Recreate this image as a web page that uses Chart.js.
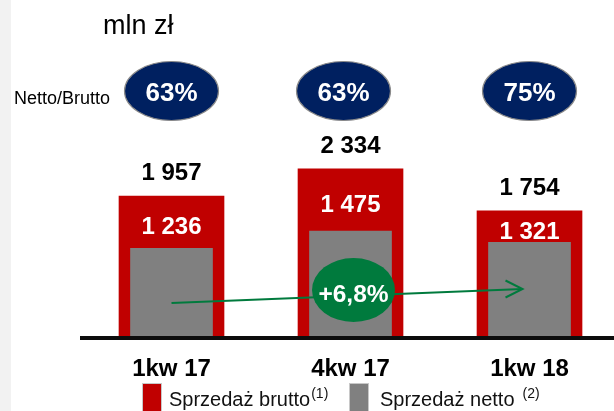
<!DOCTYPE html>
<html><head><meta charset="utf-8">
<script src="https://cdn.jsdelivr.net/npm/chart.js@4/dist/chart.umd.min.js"></script>
<style>html,body{margin:0;padding:0;background:#fff;overflow:hidden}#wrap{width:614px;height:411px;position:relative}</style>
</head><body><div id="wrap"><canvas id="c" width="614" height="411"></canvas></div>
<script>
const categories = ['1kw 17', '4kw 17', '1kw 18'];
const bruttoValues = [1957, 2334, 1754];
const nettoValues = [1236, 1475, 1321];
const ratioLabels = ['63%', '63%', '75%'];
const growthLabel = '+6,8%';
const seriesNames = ['Sprzedaż brutto', 'Sprzedaż netto'];
const footnotes = ['(1)', '(2)'];
const unitLabel = 'mln zł';
const ratioTitle = 'Netto/Brutto';

const RED = '#c00000', GREY = '#808080', NAVY = '#002060', GREEN = '#007a3d';
const F = '"Liberation Sans", Arial, Helvetica, sans-serif';
function fmt(v) { return String(v).replace(/\B(?=(\d{3})+(?!\d))/g, ' '); }

const overlay = {
  id: 'overlay',
  beforeDraw(chart) {
    const ctx = chart.ctx;
    ctx.save();
    ctx.fillStyle = '#f2f2f2';
    ctx.fillRect(0, 0, 11, chart.height);
    ctx.restore();
  },
  afterDraw(chart) {
    const xs = chart.scales.x, ys = chart.scales.y, ctx = chart.ctx;
    ctx.save();
    ctx.textAlign = 'center';
    ctx.textBaseline = 'alphabetic';
    // value labels
    categories.forEach((c, i) => {
      const cx = xs.getPixelForValue(i);
      const rt = ys.getPixelForValue(bruttoValues[i]);
      const gt = ys.getPixelForValue(nettoValues[i]);
      ctx.font = 'bold 24px ' + F;
      ctx.fillStyle = '#000';
      ctx.fillText(fmt(bruttoValues[i]), cx, rt - 16);
      ctx.fillStyle = '#fff';
      ctx.fillText(fmt(nettoValues[i]), cx, (rt + gt) / 2 + 12);
    });
    // ratio ellipses
    const ellOff = [0, -7, 0];
    categories.forEach((c, i) => {
      const cx = xs.getPixelForValue(i) + ellOff[i];
      ctx.beginPath();
      ctx.ellipse(cx, 91, 47, 29.5, 0, 0, Math.PI * 2);
      ctx.fillStyle = NAVY; ctx.fill();
      ctx.lineWidth = 1.2; ctx.strokeStyle = '#8a8a8a'; ctx.stroke();
      ctx.fillStyle = '#fff';
      ctx.font = 'bold 26px ' + F;
      ctx.fillText(ratioLabels[i], cx, 101);
    });
    // growth arrow
    const x0 = xs.getPixelForValue(0), x2 = xs.getPixelForValue(2) - 7;
    ctx.strokeStyle = GREEN; ctx.lineWidth = 2;
    ctx.beginPath(); ctx.moveTo(x0, 303); ctx.lineTo(x2, 289); ctx.stroke();
    ctx.beginPath(); ctx.moveTo(x2 - 17, 280.5); ctx.lineTo(x2, 289); ctx.lineTo(x2 - 17, 297.5); ctx.stroke();
    const gx = xs.getPixelForValue(1) + 3;
    ctx.beginPath(); ctx.ellipse(gx, 290, 41.5, 32, 0, 0, Math.PI * 2);
    ctx.fillStyle = GREEN; ctx.fill();
    ctx.fillStyle = '#fff'; ctx.font = 'bold 24.5px ' + F;
    ctx.fillText(growthLabel, gx, 302);
    // texts
    ctx.textAlign = 'left';
    ctx.fillStyle = '#000';
    ctx.font = '27px ' + F;
    ctx.fillText(unitLabel, 103, 34);
    ctx.font = '18px ' + F;
    ctx.fillText(ratioTitle, 14, 104);
    // legend
    const items = [
      { sq: 143, tx: 169, color: RED, name: seriesNames[0], note: footnotes[0], gap: 1 },
      { sq: 350, tx: 380, color: GREY, name: seriesNames[1], note: footnotes[1], gap: 8 }
    ];
    items.forEach(it => {
      ctx.fillStyle = it.color;
      ctx.fillRect(it.sq, 384, 18, 30);
      ctx.lineWidth = 1; ctx.strokeStyle = '#c8c8c8';
      ctx.strokeRect(it.sq - 0.5, 383.5, 19, 31);
      ctx.fillStyle = '#111';
      ctx.font = '20px ' + F;
      ctx.fillText(it.name, it.tx, 406);
      const w = ctx.measureText(it.name).width;
      ctx.font = '14px ' + F;
      ctx.fillText(it.note, it.tx + w + it.gap, 398);
    });
    ctx.restore();
  }
};

new Chart(document.getElementById('c'), {
  type: 'bar',
  data: {
    datasets: [
      { label: seriesNames[1], data: nettoValues.map((v, i) => ({ x: i, y: v })), backgroundColor: GREY, barThickness: 82, grouped: false, order: 0 },
      { label: seriesNames[0], data: bruttoValues.map((v, i) => ({ x: i, y: v })), backgroundColor: RED, barThickness: 105, grouped: false, order: 1 }
    ]
  },
  options: {
    responsive: false, animation: false, devicePixelRatio: 1,
    layout: { padding: { left: 82, right: 0, top: 48, bottom: 0 } },
    plugins: { legend: { display: false }, tooltip: { enabled: false } },
    scales: {
      x: {
        type: 'linear', min: -0.5, max: 2.472, offset: false,
        grid: { display: false, drawTicks: false, offset: false },
        border: { display: true, color: '#0d0d0d', width: 4, z: 1 },
        afterBuildTicks: s => { s.ticks = categories.map((_, i) => ({ value: i })); },
        afterFit: s => { s.height = 73; },
        ticks: { callback: v => categories[v], font: { family: F, size: 24, weight: 'bold' }, color: '#000', padding: 17, maxRotation: 0, autoSkip: false }
      },
      y: { display: false, min: 0, max: 4000 }
    }
  },
  plugins: [overlay]
});
</script>
</body></html>
